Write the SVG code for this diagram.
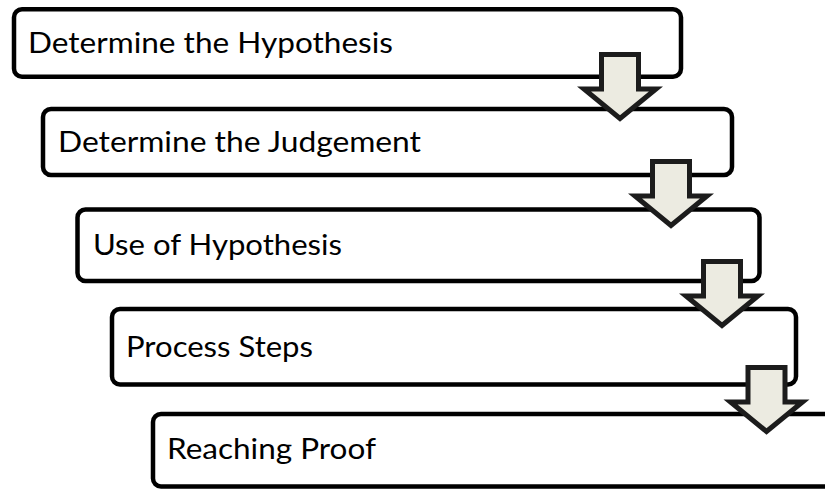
<svg xmlns="http://www.w3.org/2000/svg" width="825" height="490" viewBox="0 0 825 490">
<style>
.box{fill:#ffffff;stroke:#000000;stroke-width:4.5}
.lbl{font-family:Lato,"Open Sans","Liberation Sans",sans-serif;font-size:29px;fill:#000000}
.arr{fill:#ECEBE1;stroke:#1c1c1c;stroke-width:5;stroke-linejoin:miter}
</style>
<defs>
<path id="downArrow" d="M -18.5 0 H 18.5 V 34.5 H 36 L 0 64 L -36 34.5 H -18.5 Z"/>
</defs>
<rect width="825" height="490" fill="#ffffff"/>
<g id="node1">
<rect class="box" x="14" y="9.25" width="667" height="67.5" rx="8"/>
<text class="lbl" x="28" y="52.5" textLength="365" lengthAdjust="spacingAndGlyphs">Determine the Hypothesis</text>
</g>
<g id="node2">
<rect class="box" x="43" y="109" width="689" height="66" rx="8"/>
<text class="lbl" x="58" y="152" textLength="363" lengthAdjust="spacingAndGlyphs">Determine the Judgement</text>
</g>
<g id="node3">
<rect class="box" x="77.5" y="209.5" width="682" height="71.5" rx="8"/>
<text class="lbl" x="93" y="255" textLength="249" lengthAdjust="spacingAndGlyphs">Use of Hypothesis</text>
</g>
<g id="node4">
<rect class="box" x="112" y="309" width="684" height="75.5" rx="8"/>
<text class="lbl" x="126" y="356.5" textLength="187" lengthAdjust="spacingAndGlyphs">Process Steps</text>
</g>
<g id="node5">
<rect class="box" x="153" y="414" width="700" height="72.5" rx="8"/>
<text class="lbl" x="167" y="459" textLength="209" lengthAdjust="spacingAndGlyphs">Reaching Proof</text>
</g>
<g id="connectors">
<use href="#downArrow" class="arr" transform="translate(620,54.5)"/>
<use href="#downArrow" class="arr" transform="translate(671,161.5)"/>
<use href="#downArrow" class="arr" transform="translate(722,261.5)"/>
<use href="#downArrow" class="arr" transform="translate(766.5,367.5)"/>
</g>
</svg>
